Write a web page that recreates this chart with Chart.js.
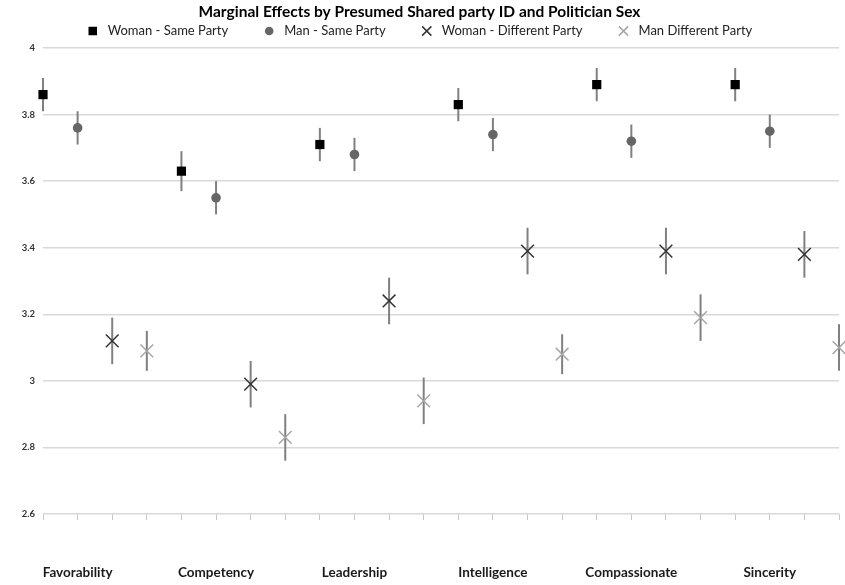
<!DOCTYPE html>
<html>
<head>
<meta charset="utf-8">
<script src="https://cdn.jsdelivr.net/npm/chart.js@4"></script>
<style>
  html, body { margin: 0; padding: 0; background: #ffffff; }
  #wrap { width: 845px; height: 585px; position: relative; }
</style>
</head>
<body>
<div id="wrap"><canvas id="chart"></canvas></div>
<script>
const categories = ["Favorability", "Competency", "Leadership", "Intelligence", "Compassionate", "Sincerity"];
const seriesNames = ["Woman - Same Party", "Man - Same Party", "Woman - Different Party", "Man Different Party"];

// point estimates
const womanSame = [3.86, 3.63, 3.71, 3.83, 3.89, 3.89];
const manSame = [3.76, 3.55, 3.68, 3.74, 3.72, 3.75];
const womanDiff = [3.12, 2.99, 3.24, 3.39, 3.39, 3.38];
const manDiff = [3.09, 2.83, 2.94, 3.08, 3.19, 3.10];

// half-width of the error bars
const womanSameErr = [0.05, 0.06, 0.05, 0.05, 0.05, 0.05];
const manSameErr = [0.05, 0.05, 0.05, 0.05, 0.05, 0.05];
const womanDiffErr = [0.07, 0.07, 0.07, 0.07, 0.07, 0.07];
const manDiffErr = [0.06, 0.07, 0.07, 0.06, 0.07, 0.07];

const yMin = 2.6, yMax = 4, yStep = 0.2;

const FONT = "Lato, 'Open Sans', sans-serif";

// each category takes 4 slots on the x axis, one per series
const toPoints = function (values, errs, slot) {
    return values.map((v, i) => ({ x: i * 4 + slot, y: v, err: errs[i] }));
};

// vertical error bars, drawn under the markers
const errorBars = {
    id: "errorBars",
    beforeDatasetsDraw(chart) {
        const ctx = chart.ctx;
        const xs = chart.scales.x, ys = chart.scales.y;
        ctx.save();
        ctx.strokeStyle = "#808080";
        ctx.lineWidth = 2;
        chart.data.datasets.forEach(ds => {
            ds.data.forEach(p => {
                const px = xs.getPixelForValue(p.x);
                ctx.beginPath();
                ctx.moveTo(px, ys.getPixelForValue(p.y + p.err));
                ctx.lineTo(px, ys.getPixelForValue(p.y - p.err));
                ctx.stroke();
            });
        });
        ctx.restore();
    }
};

// legend drawn in one row under the title
const legendRow = {
    id: "legendRow",
    afterDraw(chart) {
        const ctx = chart.ctx;
        const y = 31, markerGap = 15, itemGap = 41;
        ctx.save();
        ctx.font = "13px " + FONT;
        ctx.textBaseline = "middle";
        const items = chart.data.datasets.map(ds => ({ ds: ds, w: ctx.measureText(ds.label).width }));
        const total = items.reduce((a, it) => a + markerGap + it.w, 0) + itemGap * (items.length - 1);
        let x = (chart.width - total) / 2;
        items.forEach(it => {
            ctx.fillStyle = it.ds.backgroundColor;
            ctx.strokeStyle = it.ds.borderColor;
            ctx.lineWidth = 1.5;
            Chart.helpers.drawPoint(ctx, {
                pointStyle: it.ds.pointStyle,
                radius: it.ds.legendRadius,
                borderWidth: it.ds.borderWidth,
                rotation: 0,
            }, x, y);
            ctx.fillStyle = "#222222";
            ctx.fillText(it.ds.label, x + markerGap, y);
            x += markerGap + it.w + itemGap;
        });
        ctx.restore();
    }
};

new Chart(document.getElementById("chart").getContext("2d"), {
    type: "scatter",
    data: {
        datasets: [
            {
                label: seriesNames[0],
                data: toPoints(womanSame, womanSameErr, 0),
                pointStyle: "rect",
                pointRadius: 6.5,
                legendRadius: 6,
                backgroundColor: "#000000",
                borderColor: "#000000",
                borderWidth: 0,
            },
            {
                label: seriesNames[1],
                data: toPoints(manSame, manSameErr, 1),
                pointStyle: "circle",
                pointRadius: 4.8,
                legendRadius: 4.3,
                backgroundColor: "#666666",
                borderColor: "#666666",
                borderWidth: 0,
            },
            {
                label: seriesNames[2],
                data: toPoints(womanDiff, womanDiffErr, 2),
                pointStyle: "crossRot",
                pointRadius: 9,
                legendRadius: 6.5,
                backgroundColor: "#333333",
                borderColor: "#333333",
                borderWidth: 1.5,
            },
            {
                label: seriesNames[3],
                data: toPoints(manDiff, manDiffErr, 3),
                pointStyle: "crossRot",
                pointRadius: 9,
                legendRadius: 6.5,
                backgroundColor: "#a6a6a6",
                borderColor: "#a6a6a6",
                borderWidth: 1.5,
            },
        ]
    },
    options: {
        responsive: true,
        maintainAspectRatio: false,
        animation: false,
        clip: false,
        layout: {
            autoPadding: false,
            padding: { left: 0, right: 6, top: 0, bottom: 0 }
        },
        plugins: {
            title: {
                display: true,
                text: "Marginal Effects by Presumed Shared party ID and Politician Sex",
                color: "#000000",
                font: { family: FONT, size: 15.5, weight: "bold" },
                padding: { top: 3, bottom: 26.4 },
            },
            legend: { display: false },
            tooltip: { enabled: false },
        },
        scales: {
            x: {
                type: "linear",
                min: 0,
                max: 4 * categories.length - 1,
                afterBuildTicks: (axis) => {
                    axis.ticks = Array.from({ length: 4 * categories.length }, (_, k) => ({ value: k }));
                },
                afterFit: (s) => {
                    s.height = 71;
                    s.paddingLeft = 0;
                    s.paddingRight = 0;
                },
                grid: {
                    drawOnChartArea: false,
                    tickLength: 6,
                    color: "#c8c8c8",
                },
                border: { display: false },
                ticks: {
                    autoSkip: false,
                    maxRotation: 0,
                    padding: 45,
                    color: "#1a1a1a",
                    font: { family: FONT, size: 13.5, weight: "bold" },
                    callback: (v) => (v % 4 === 1 ? categories[(v - 1) / 4] : ""),
                },
            },
            y: {
                min: yMin,
                max: yMax,
                afterFit: (s) => { s.width = 43; },
                grid: {
                    color: "#d9d9d9",
                    lineWidth: 1.5,
                    drawTicks: false,
                },
                border: { display: false },
                ticks: {
                    stepSize: yStep,
                    padding: 8,
                    color: "#333333",
                    font: { family: FONT, size: 9.5, weight: "bold" },
                    callback: (v) => String(+v.toFixed(1)),
                },
            },
        },
    },
    plugins: [errorBars, legendRow],
});
</script>
</body>
</html>
